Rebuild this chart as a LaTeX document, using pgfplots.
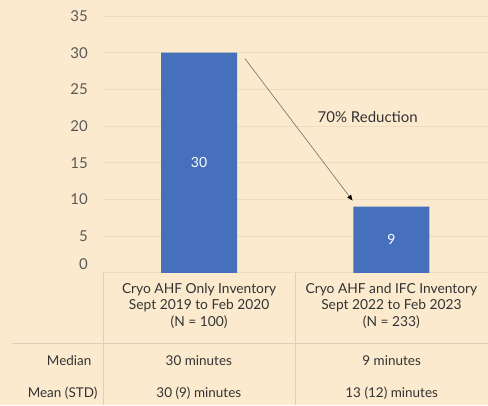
\documentclass[border=0pt]{standalone}
\usepackage{fontspec}
\setmainfont{Lato}
\usepackage{pgfplots}
\pgfplotsset{compat=1.18}
\usetikzlibrary{arrows.meta}
\definecolor{bg}{HTML}{FCEACF}
\definecolor{gridc}{HTML}{EFDBBF}
\definecolor{barc}{HTML}{4670BB}
\definecolor{tickc}{HTML}{595959}
\definecolor{txt}{HTML}{333333}
\definecolor{rulec}{HTML}{DCD0BC}
\definecolor{arrowc}{HTML}{7A6E5E}
\begin{document}
\begin{tikzpicture}[x=1pt,y=1pt]
\fill[bg] (-103,-132) rectangle (385,273);
\begin{axis}[
  at={(0,0)}, anchor=south west,
  width=385pt, height=257pt, scale only axis,
  xmin=-0.5, xmax=1.5, ymin=0, ymax=35,
  axis line style={draw=none},
  ytick={5,10,...,35}, extra y ticks={0},
  extra y tick style={yticklabel style={yshift=9pt}},
  ymajorgrids, major grid style={draw=gridc, line width=0.8pt},
  major tick length=0pt, tick style={draw=none},
  /pgf/number format/assume math mode=true,
  yticklabel style={font=\fontsize{15}{17}\selectfont, text=tickc, inner sep=0pt, xshift=-15pt},
  xtick={0,1},
  xticklabels={{Cryo AHF Only Inventory\\Sept 2019 to Feb 2020\\(N = 100)},{Cryo AHF and IFC Inventory\\Sept 2022 to Feb 2023\\(N = 233)}},
  xticklabel style={align=center, font=\fontsize{13.8}{16.5}\selectfont, text=txt, anchor=north, inner sep=0pt, yshift=-10pt},
  clip=false,
  ybar, bar width=76pt,
  nodes near coords,
  visualization depends on=rawy \as \rawy,
  every node near coord/.append style={anchor=center, shift={(axis direction cs:0,{-\rawy/2})}, text=white, font=\fontsize{14}{16}\selectfont},
]
\addplot[fill=barc, draw=none] coordinates {(0,30) (1,9)};
\draw[arrowc, line width=0.6pt, -{Latex[length=6pt,width=5pt,color=black]}] (axis cs:0.238,29.2) -- (axis cs:0.799,9.8);
\node[font=\fontsize{15}{17}\selectfont, text=txt] at (axis cs:0.877,21.25) {70\% Reduction};
\end{axis}
\draw[rulec, line width=0.8pt] (0,0) -- (0,-132);
\draw[rulec, line width=0.8pt] (193,0) -- (193,-132);
\draw[rulec, line width=0.8pt] (-91,-71) -- (385,-71);
\begin{scope}[every node/.style={font=\fontsize{13.5}{16}\selectfont, text=txt}]
\node[anchor=east] at (-8,-88) {Median};
\node[anchor=east] at (-2,-121) {Mean (STD)};
\node at (96,-88) {30 minutes};
\node at (289,-88) {9 minutes};
\node at (96,-121) {30 (9) minutes};
\node at (289,-121) {13 (12) minutes};
\end{scope}
\end{tikzpicture}
\end{document}
